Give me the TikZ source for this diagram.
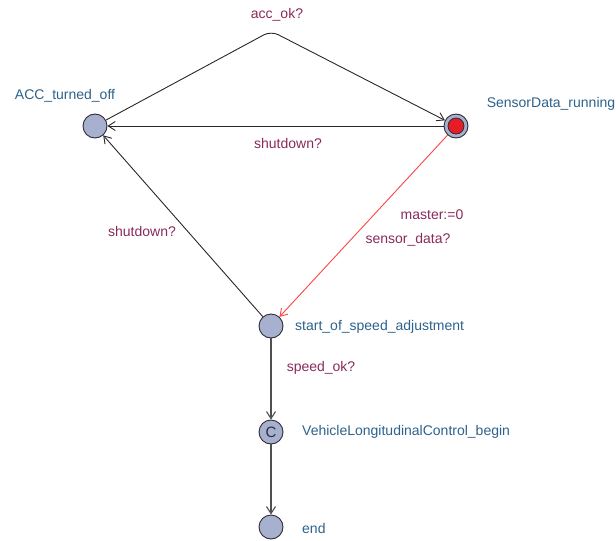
\documentclass[tikz,border=0pt]{standalone}
\usepackage{fontspec}
\setmainfont{Liberation Sans}
\usetikzlibrary{arrows.meta}
\definecolor{locfill}{RGB}{168,176,208}
\definecolor{locline}{RGB}{45,45,55}
\definecolor{namecol}{RGB}{44,98,140}
\definecolor{labcol}{RGB}{138,42,90}
\definecolor{redfill}{RGB}{232,28,36}
\definecolor{rededge}{RGB}{250,70,70}
\definecolor{edgecol}{RGB}{40,40,40}
\definecolor{vedgecol}{RGB}{80,80,80}
\tikzset{
  loc/.style={circle,draw=locline,fill=locfill,minimum size=24pt,inner sep=0pt,line width=0.9pt},
  initin/.style={circle,draw=locline,fill=redfill,minimum size=16pt,inner sep=0pt,line width=0.8pt},
  locname/.style={text=namecol,font=\fontsize{14}{16}\selectfont,inner sep=0pt},
  edgelab/.style={text=labcol,font=\fontsize{14}{16}\selectfont,inner sep=0pt},
  edge/.style={draw=edgecol,line width=0.9pt,-{Straight Barb[length=7pt,width=9pt]}},
}
\begin{document}
\begin{tikzpicture}[x=1pt,y=-1pt]
\useasboundingbox (0,0) rectangle (616,541);
\node[loc] (acc) at (95,126) {};
\node[loc] (sens) at (456,126) {};
\node[initin] (sensin) at (456,126) {};
\node[loc] (start) at (271,326) {};
\node[loc,text=locline] (vlc) at (271,432) {\fontsize{15}{15}\selectfont C};
\node[loc] (end) at (271,527) {};
\coordinate (top) at (271,31);

\node[locname] (nacc) at (65,96) {ACC\_turned\_off};
\node[locname] (nsens) at (551,104) {SensorData\_running};
\node[locname,anchor=west] (nstart) at (295,327) {start\_of\_speed\_adjustment};
\node[locname,anchor=west] (nvlc) at (302,432) {VehicleLongitudinalControl\_begin};
\node[locname,anchor=west] (nend) at (302,528) {end};

\draw[edge,rounded corners=8pt] (acc) -- (top) -- (sens);
\draw[edge] (sens) -- (acc);
\draw[edge] (start) -- (acc);
\draw[edge,draw=rededge] (sens) -- (start);
\draw[edge,draw=vedgecol,line width=1.1pt] (start) -- (vlc);
\draw[edge,draw=vedgecol,line width=1.1pt] (vlc) -- (end);

\node[edgelab] (lacc) at (277,15) {acc\_ok?};
\node[edgelab] (lsh1) at (288,143) {shutdown?};
\node[edgelab] (lsh2) at (142,231) {shutdown?};
\node[edgelab] (lmas) at (432,215) {master:=0};
\node[edgelab] (lsd) at (408,240) {sensor\_data?};
\node[edgelab] (lspd) at (321,368) {speed\_ok?};
\end{tikzpicture}
\end{document}
